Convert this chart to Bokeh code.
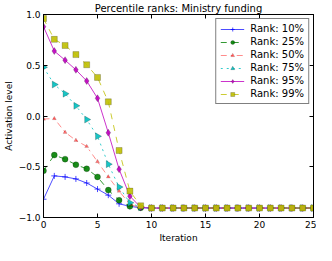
import numpy as np
from bokeh.plotting import figure
from bokeh.models import LinearAxis, Legend, LegendItem, FixedTicker, Range1d
from bokeh.embed import file_html
from bokeh.resources import INLINE

iterations = list(range(26))
labels = ["Rank: 10%", "Rank: 25%", "Rank: 50%", "Rank: 75%", "Rank: 95%", "Rank: 99%"]

rank10 = [-0.82, -0.59, -0.60, -0.62, -0.66, -0.72, -0.78, -0.865, -0.89, -0.905,
          -0.907, -0.907, -0.907, -0.907, -0.907, -0.907, -0.907, -0.907, -0.907, -0.907,
          -0.907, -0.907, -0.907, -0.907, -0.907, -0.907]
rank25 = [-0.54, -0.385, -0.425, -0.48, -0.52, -0.60, -0.73, -0.83, -0.89, -0.905,
          -0.907, -0.907, -0.907, -0.907, -0.907, -0.907, -0.907, -0.907, -0.907, -0.907,
          -0.907, -0.907, -0.907, -0.907, -0.907, -0.907]
rank50 = [-0.03, -0.025, -0.16, -0.24, -0.30, -0.45, -0.60, -0.74, -0.87, -0.905,
          -0.907, -0.907, -0.907, -0.907, -0.907, -0.907, -0.907, -0.907, -0.907, -0.907,
          -0.907, -0.907, -0.907, -0.907, -0.907, -0.907]
rank75 = [0.48, 0.31, 0.22, 0.10, -0.035, -0.20, -0.475, -0.70, -0.855, -0.90,
          -0.907, -0.907, -0.907, -0.907, -0.907, -0.907, -0.907, -0.907, -0.907, -0.907,
          -0.907, -0.907, -0.907, -0.907, -0.907, -0.907]
rank95 = [0.88, 0.64, 0.55, 0.455, 0.345, 0.175, -0.165, -0.525, -0.79, -0.90,
          -0.907, -0.907, -0.907, -0.907, -0.907, -0.907, -0.907, -0.907, -0.907, -0.907,
          -0.907, -0.907, -0.907, -0.907, -0.907, -0.907]
rank99 = [0.96, 0.755, 0.695, 0.605, 0.505, 0.38, 0.14, -0.34, -0.74, -0.885,
          -0.907, -0.907, -0.907, -0.907, -0.907, -0.907, -0.907, -0.907, -0.907, -0.907,
          -0.907, -0.907, -0.907, -0.907, -0.907, -0.907]

x_ticks = [0, 5, 10, 15, 20, 25]
y_ticks = [-1.0, -0.5, 0.0, 0.5, 1.0]
y_tick_labels = ["\u22121.0", "\u22120.5", "0.0", "0.5", "1.0"]

FONT = "DejaVu Sans"

p = figure(width=316, height=245, output_backend="svg", toolbar_location=None,
           x_range=Range1d(0, 25), y_range=Range1d(-1, 1),
           min_border_left=0, min_border_right=3, min_border_top=0, min_border_bottom=0)
p.grid.visible = False
p.outline_line_color = "black"
p.outline_line_width = 1
p.background_fill_color = "white"

p.title.text = "Percentile ranks: Ministry funding"
p.title.align = "center"
p.title.text_font = FONT
p.title.text_font_size = "10px"
p.title.text_font_style = "normal"
p.title.text_color = "black"
p.title.offset = 0
p.title.standoff = 1


def style_axis(ax):
    ax.major_tick_in = 4
    ax.major_tick_out = 0
    ax.minor_tick_in = 0
    ax.minor_tick_out = 0
    ax.axis_line_color = "black"
    ax.major_tick_line_color = "black"
    ax.major_label_text_font = FONT
    ax.major_label_text_font_size = "9px"
    ax.major_label_text_color = "black"
    ax.axis_label_text_font = FONT
    ax.axis_label_text_font_size = "9px"
    ax.axis_label_text_font_style = "normal"
    ax.axis_label_text_color = "black"
    ax.major_label_standoff = 3
    ax.axis_label_standoff = 2


p.xaxis.ticker = FixedTicker(ticks=x_ticks)
p.yaxis.ticker = FixedTicker(ticks=y_ticks)
p.yaxis.major_label_overrides = {t: l for t, l in zip(y_ticks, y_tick_labels)}
p.xaxis.axis_label = "Iteration"
p.yaxis.axis_label = "Activation level"
style_axis(p.xaxis[0])
style_axis(p.yaxis[0])

top = LinearAxis(ticker=FixedTicker(ticks=x_ticks))
right = LinearAxis(ticker=FixedTicker(ticks=y_ticks))
for ax, ticks in ((top, x_ticks), (right, y_ticks)):
    style_axis(ax)
    ax.major_label_overrides = {t: "" for t in ticks}
    ax.major_label_standoff = 0
p.add_layout(top, "above")
p.add_layout(right, "right")

series = [
    (rank10, "#0000ff", "solid", "cross", 6, 0, 0.7),
    (rank25, "#008000", "dashed", "circle", 6, 0, 0.8),
    (rank50, "#ff0000", "dashdot", "triangle", 4, 0, 0.45),
    (rank75, "#00bfbf", "dotted", "triangle", 7, -np.pi / 2, 0.8),
    (rank95, "#bf00bf", "solid", "diamond", 7, 0, 0.8),
    (rank99, "#bfbf00", "dashed", "square", 6, 0, 0.8),
]

items = []
for (vals, col, dash, mk, sz, ang, al), lab in zip(series, labels):
    r1 = p.line(iterations, vals, line_color=col, line_dash=dash, line_width=1, line_alpha=al)
    if mk == "cross":
        r2 = p.scatter(iterations, vals, marker=mk, size=sz, line_color=col, line_alpha=al)
    else:
        r2 = p.scatter(iterations, vals, marker=mk, size=sz, angle=ang, fill_color=col,
                       fill_alpha=min(1.0, al + 0.1),
                       line_color="black", line_width=0.5, line_alpha=0.5 * al)
    items.append(LegendItem(label=lab, renderers=[r1, r2]))

legend = Legend(items=items, location="top_right")
legend.label_text_font = FONT
legend.label_text_font_size = "10px"
legend.label_text_color = "black"
legend.border_line_color = "black"
legend.border_line_width = 1
legend.glyph_width = 24
legend.glyph_height = 10
legend.spacing = 2
legend.padding = 4
legend.margin = 4
legend.label_standoff = 6
legend.label_height = 10
p.add_layout(legend)

open("out.html", "w").write(file_html(p, INLINE))
